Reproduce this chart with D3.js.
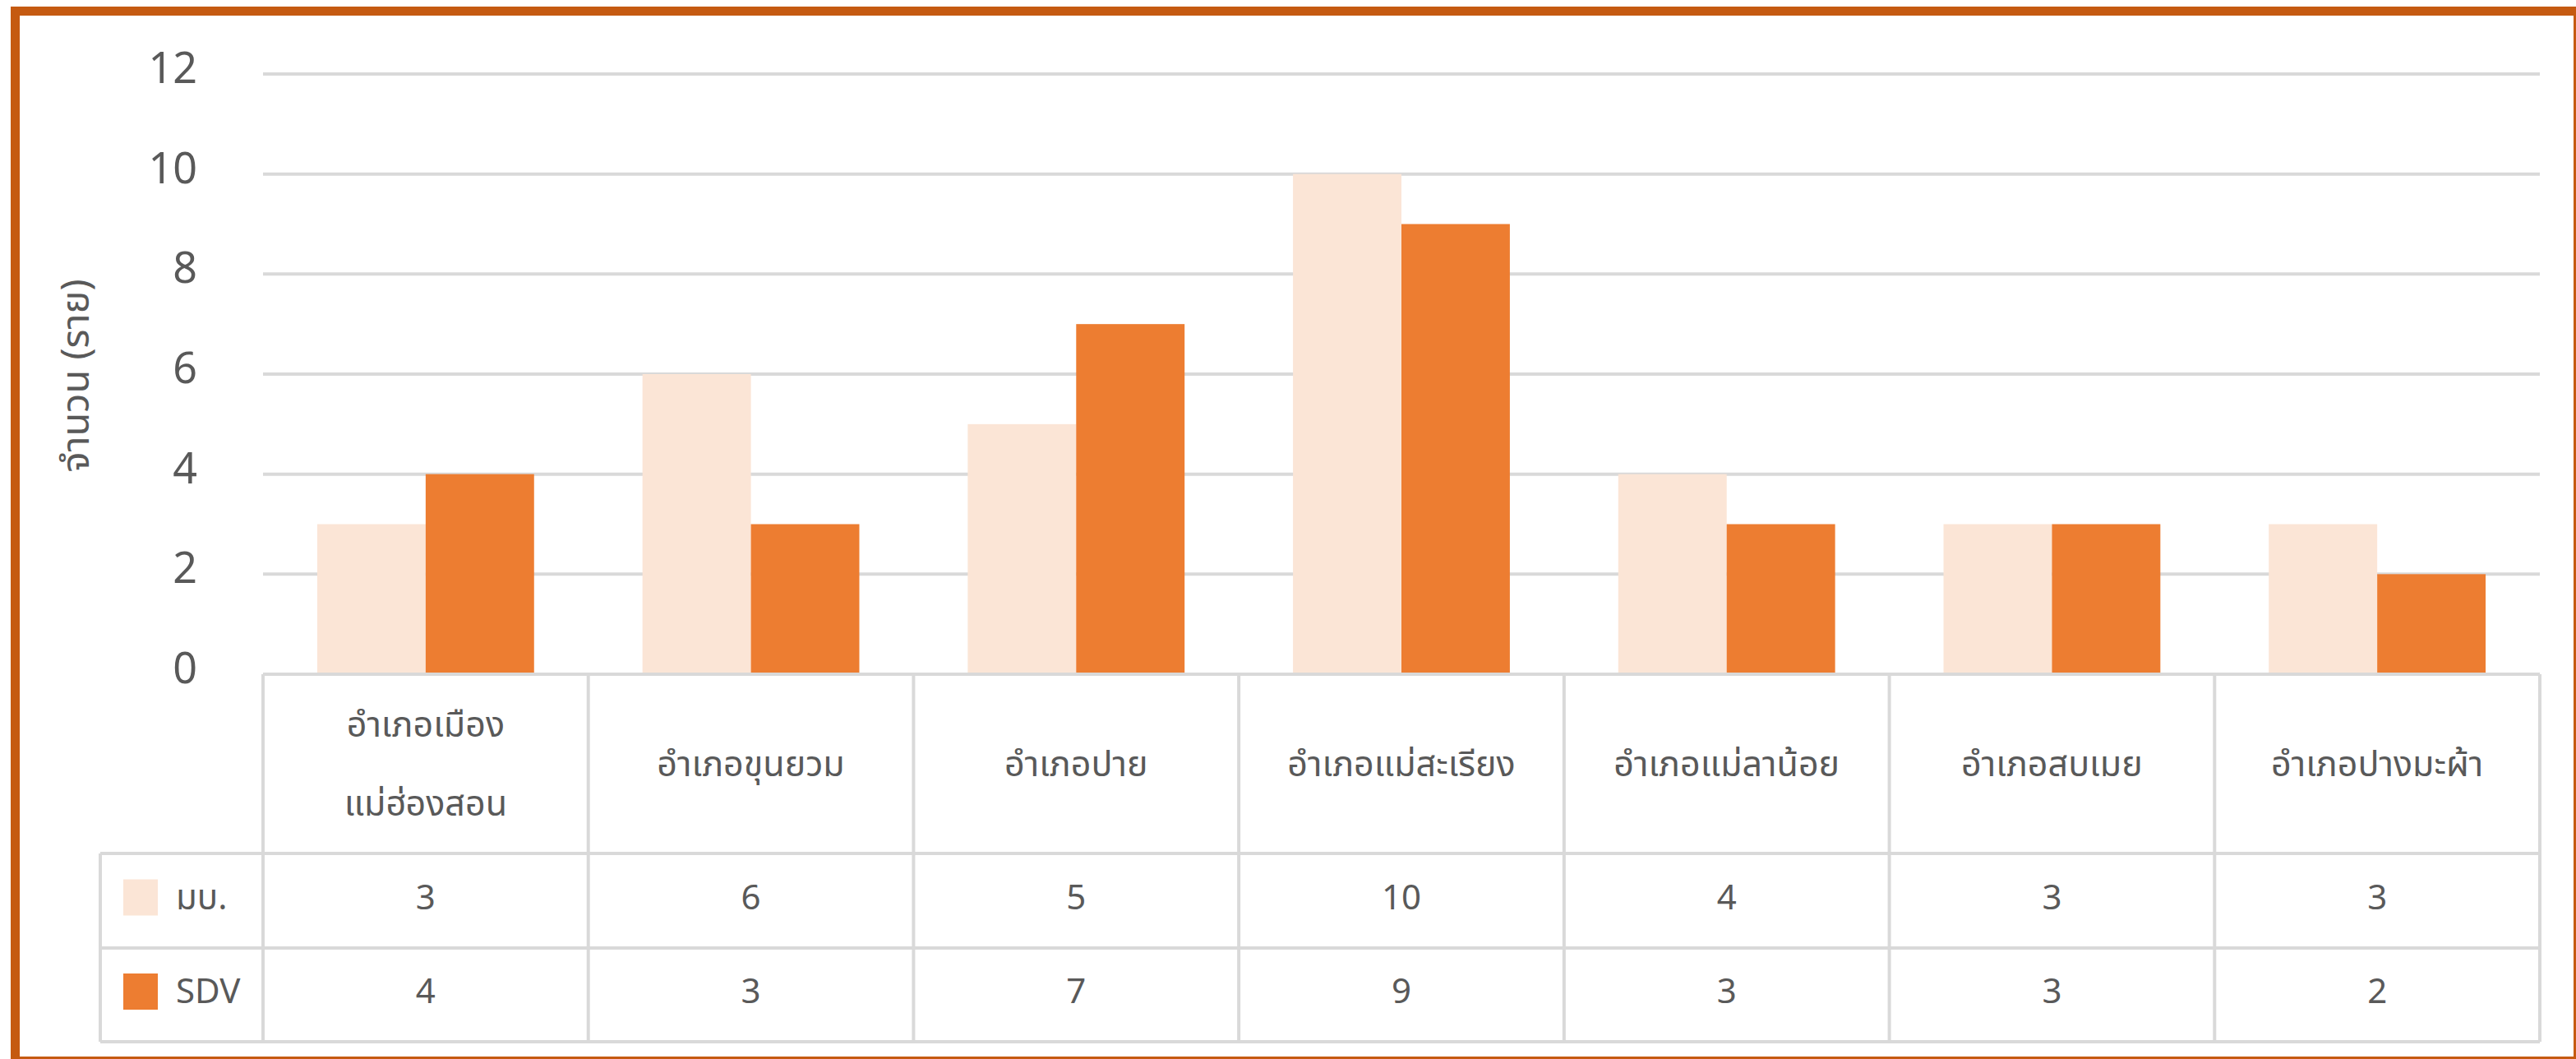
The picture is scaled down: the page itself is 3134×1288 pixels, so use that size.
<!DOCTYPE html>
<html><head><meta charset="utf-8">
<script src="https://cdn.jsdelivr.net/npm/d3@7/dist/d3.min.js"></script>
<style>
html,body{margin:0;padding:0;background:#fff;}
svg{display:block;}
text{font-family:"Noto Sans Thai","Leelawadee UI","Tahoma","Noto Sans",sans-serif;fill:#595959;}
</style></head>
<body>
<svg id="chart" width="3134" height="1288"></svg>
<script>
const categories = [
  ["อำเภอเมือง","แม่ฮ่องสอน"],
  ["อำเภอขุนยวม"],
  ["อำเภอปาย"],
  ["อำเภอแม่สะเรียง"],
  ["อำเภอแม่ลาน้อย"],
  ["อำเภอสบเมย"],
  ["อำเภอปางมะผ้า"]
];
const seriesNames = ["มบ.", "SDV"];
const seriesColors = ["#FBE5D6", "#ED7D31"];
const mbValues  = [3, 6, 5, 10, 4, 3, 3];
const sdvValues = [4, 3, 7, 9, 3, 3, 2];
const yTicks = [0, 2, 4, 6, 8, 10, 12];
const yTitle = "จำนวน (ราย)";

const seriesValues = [mbValues, sdvValues];
const svg = d3.select("#chart");

const plotL = 320, plotR = 3090, plotT = 90, plotB = 820;
const tableHeadB = 1038, row1B = 1153, row2B = 1267, legendL = 122;

const catKeys = categories.map(c => c.join(""));
const x = d3.scaleBand().domain(catKeys).range([plotL, plotR]).padding(0);
const xs = d3.scaleBand().domain(seriesNames).range([0, x.bandwidth()]).paddingInner(0).paddingOuter(0.5);
const y = d3.scaleLinear().domain([0, 12]).range([plotB, plotT]);

// frame
svg.append("rect").attr("x", 18.5).attr("y", 13.5).attr("width", 3136.5 - 18.5).attr("height", 1290.5 - 13.5)
  .attr("fill", "#fff").attr("stroke", "#C55A11").attr("stroke-width", 11);

// gridlines
const grid = svg.append("g");
grid.selectAll("line").data(yTicks.filter(d => d > 0)).join("line")
  .attr("x1", plotL).attr("x2", plotR)
  .attr("y1", d => y(d)).attr("y2", d => y(d))
  .attr("stroke", "#D9D9D9").attr("stroke-width", 4);

// y axis labels
const yAxis = d3.axisLeft(y).tickValues(yTicks).tickSize(0).tickPadding(0);
const yg = svg.append("g").attr("transform", `translate(${240},0)`).call(yAxis);
yg.select(".domain").remove();
yg.selectAll("text").attr("font-size", 52).attr("fill", "#595959")
  .attr("dy", "0.2em").style("font-family", "'Noto Sans','Liberation Sans',sans-serif");

// y title
svg.append("text").attr("transform", `translate(${108},${457}) rotate(-90)`)
  .attr("text-anchor", "middle").attr("font-size", 47).text(yTitle);

// bars
const groups = svg.append("g").selectAll("g").data(catKeys).join("g")
  .attr("transform", d => `translate(${x(d)},0)`);
groups.selectAll("rect").data((d, i) => seriesNames.map((s, j) => ({s, j, v: seriesValues[j][i]})))
  .join("rect")
  .attr("x", d => xs(d.s)).attr("width", xs.bandwidth())
  .attr("y", d => y(d.v)).attr("height", d => y(0) - y(d.v))
  .attr("fill", d => seriesColors[d.j]);

// table
const tbl = svg.append("g").attr("stroke", "#D9D9D9").attr("stroke-width", 4).attr("fill", "none");
tbl.append("line").attr("x1", plotL).attr("x2", plotR).attr("y1", plotB).attr("y2", plotB);
[tableHeadB, row1B, row2B].forEach(yy => {
  tbl.append("line").attr("x1", legendL).attr("x2", plotR).attr("y1", yy).attr("y2", yy);
});
const bounds = catKeys.map(k => x(k)).concat([plotR]);
bounds.forEach(xx => {
  tbl.append("line").attr("x1", xx).attr("x2", xx).attr("y1", plotB).attr("y2", row2B);
});
tbl.append("line").attr("x1", legendL).attr("x2", legendL).attr("y1", tableHeadB).attr("y2", row2B);

// header text
const headFont = 43;
const hd = svg.append("g");
categories.forEach((lines, i) => {
  const cx = x(catKeys[i]) + x.bandwidth() / 2;
  const midY = (plotB + tableHeadB) / 2;
  const lh = 96;
  const t = hd.append("text").attr("text-anchor", "middle").attr("font-size", headFont);
  lines.forEach((ln, k) => {
    t.append("tspan").attr("x", cx)
      .attr("y", midY + (k - (lines.length - 1) / 2) * lh + 15).text(ln);
  });
});

// rows
const rowTops = [tableHeadB, row1B], rowBots = [row1B, row2B];
seriesNames.forEach((s, j) => {
  const cy = (rowTops[j] + rowBots[j]) / 2;
  svg.append("rect").attr("x", 150).attr("y", cy - 22 - 4).attr("width", 42).attr("height", 44)
    .attr("fill", seriesColors[j]);
  svg.append("text").attr("x", 214).attr("y", cy + 10).attr("font-size", 42).text(s);
  seriesValues[j].forEach((v, i) => {
    svg.append("text").attr("x", x(catKeys[i]) + x.bandwidth() / 2).attr("y", cy + 10)
      .attr("text-anchor", "middle").attr("font-size", 42)
      .style("font-family", "'Noto Sans','Liberation Sans',sans-serif").text(v);
  });
});
</script>
</body></html>
